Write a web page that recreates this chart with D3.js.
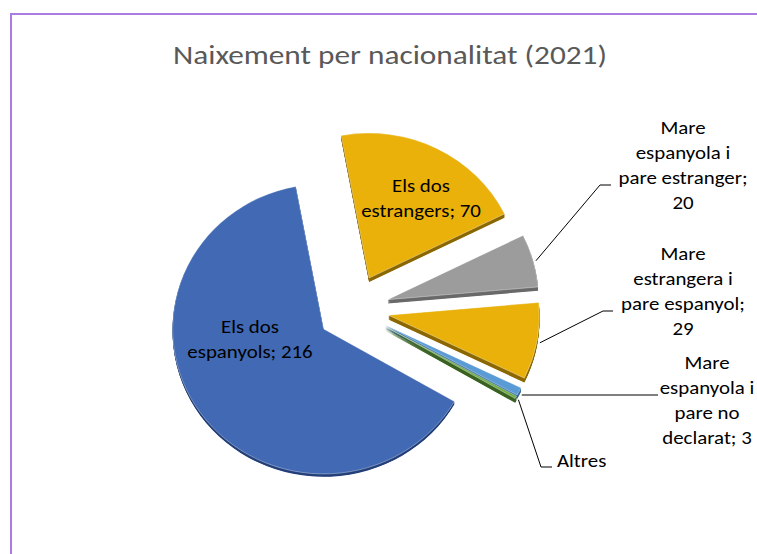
<!DOCTYPE html>
<html>
<head>
<meta charset="utf-8">
<script src="https://cdn.jsdelivr.net/npm/d3@7"></script>
<style>
  body { margin: 0; background: #fff; }
  svg text { font-family: Carlito, Calibri, Lato, sans-serif; }
</style>
</head>
<body>
<div id="chart"></div>
<script>

// ---- data ----
var categories = ["Els dos espanyols", "Els dos estrangers", "Mare espanyola i pare estranger",
                  "Mare estrangera i pare espanyol", "Mare espanyola i pare no declarat", "Altres"];
var births = [216, 70, 20, 29, 3, 1];
var title = "Naixement per nacionalitat (2021)";

// ---- styling / layout (not data) ----
var topColors  = ["#4169b4", "#e9b10a", "#9c9c9c", "#e9b10a", "#5b9bd5", "#70ad47"];
var sideColors = ["#24407a", "#8c6800", "#6a6a6a", "#8c6800", "#35699a", "#3b6322"];
var depths     = [3, 4, 4, 4.5, 4, 4.5];   // visible 3D thickness per slice
// words per line for each data label, and whether the value is shown
var wrap = [[2, 2], [2, 2], [1, 2, 2, 1], [1, 2, 2, 1], [1, 2, 2, 2], [1]];
var showValue = [true, true, true, true, true, false];
var labelPos = [
    { x: 250, y: 333, anchor: "middle" },
    { x: 421, y: 192, anchor: "middle" },
    { x: 683, y: 134, anchor: "middle", leaderY: 185, elbowX: 600, endX: 611 },
    { x: 683, y: 260, anchor: "middle", leaderY: 311, elbowX: 603, endX: 613 },
    { x: 707, y: 369, anchor: "middle", leaderY: 395, endX: 658 },
    { x: 557, y: 467, anchor: "start",  leaderY: 467, elbowX: 541, endX: 552 }
];

var width = 757, height = 554;
var cx = 353, cy = 309;       // pie centre
var radius = 151;
var tilt = 0.96;              // slight 3D tilt, squashes the pie vertically
var explode = 36;             // every slice pulled out by this much
var lineH = 25;
var stretch = 1.16;           // Calibri in the source is wider than the local fallback

var svg = d3.select("#chart").append("svg")
    .attr("width", width)
    .attr("height", height);

// purple chart border (cut off on the right and bottom like the screenshot)
svg.append("rect")
    .attr("x", 11).attr("y", 14)
    .attr("width", 820).attr("height", 620)
    .attr("fill", "#fff")
    .attr("stroke", "#a87ce0")
    .attr("stroke-width", 2);

// text helper: several lines, stretched a bit horizontally
function addText(x, y, anchor, size, color, lines) {
    var t = svg.append("g")
        .attr("transform", "translate(" + x + "," + y + ") scale(" + stretch + ",1)")
        .append("text")
        .attr("text-anchor", anchor)
        .attr("font-size", size)
        .attr("fill", color);
    lines.forEach(function (s, j) {
        t.append("tspan")
            .attr("x", 0)
            .attr("y", j * lineH)
            .text(s);
    });
    return t;
}

addText(390, 64, "middle", 27, "#595959", [title]);

// 1. pie layout, first slice at 120 degrees, clockwise
var pie = d3.pie()
    .sort(null)
    .startAngle(120 * Math.PI / 180)
    .endAngle(480 * Math.PI / 180)
    .value(function (d) { return d; });

var arcs = pie(births);

var arc = d3.arc().innerRadius(0).outerRadius(radius);

function mid(d) { return (d.startAngle + d.endAngle) / 2; }
function offset(d, r) {
    var a = mid(d);
    return [Math.sin(a) * r, -Math.cos(a) * r * tilt];
}

var g = svg.append("g").attr("transform", "translate(" + cx + "," + cy + ")");

var slices = g.selectAll(".slice")
    .data(arcs)
    .enter().append("g")
    .attr("class", "slice")
    .attr("transform", function (d) {
        var o = offset(d, explode);
        return "translate(" + o[0] + "," + o[1] + ") scale(1," + tilt + ")";
    });

// 2. side faces: stack the slice downwards in a darker tone
slices.each(function (d, i) {
    var s = d3.select(this);
    d3.range(depths[i], 0, -0.5).forEach(function (k) {
        s.append("path")
            .attr("d", arc(d))
            .attr("transform", "translate(0," + k + ")")
            .attr("fill", sideColors[i]);
    });
});

// 3. top faces
slices.append("path")
    .attr("d", arc)
    .attr("fill", function (d, i) { return topColors[i]; })
    .attr("stroke", "rgba(255,255,255,0.45)")
    .attr("stroke-width", 0.8);

// 4. leader lines for the outside labels
var lineGen = d3.line();
arcs.forEach(function (d, i) {
    var p = labelPos[i];
    if (p.leaderY === undefined) return;
    var o = offset(d, explode);
    var e = offset(d, radius + 3);
    var start = [cx + o[0] + e[0], cy + o[1] + e[1] + 1];
    var pts = p.elbowX === undefined
        ? [[start[0], p.leaderY], [p.endX, p.leaderY]]
        : [start, [p.elbowX, p.leaderY], [p.endX, p.leaderY]];
    svg.append("path")
        .attr("d", lineGen(pts))
        .attr("fill", "none")
        .attr("stroke", "#000")
        .attr("stroke-width", 1);
});

// 5. data labels
arcs.forEach(function (d, i) {
    var words = (categories[i] + (showValue[i] ? "; " + births[i] : "")).split(" ");
    var lines = [], k = 0;
    wrap[i].forEach(function (n) {
        lines.push(words.slice(k, k + n).join(" "));
        k += n;
    });
    var p = labelPos[i];
    addText(p.x, p.y, p.anchor, 18, "#000", lines);
});

</script>
</body>
</html>
